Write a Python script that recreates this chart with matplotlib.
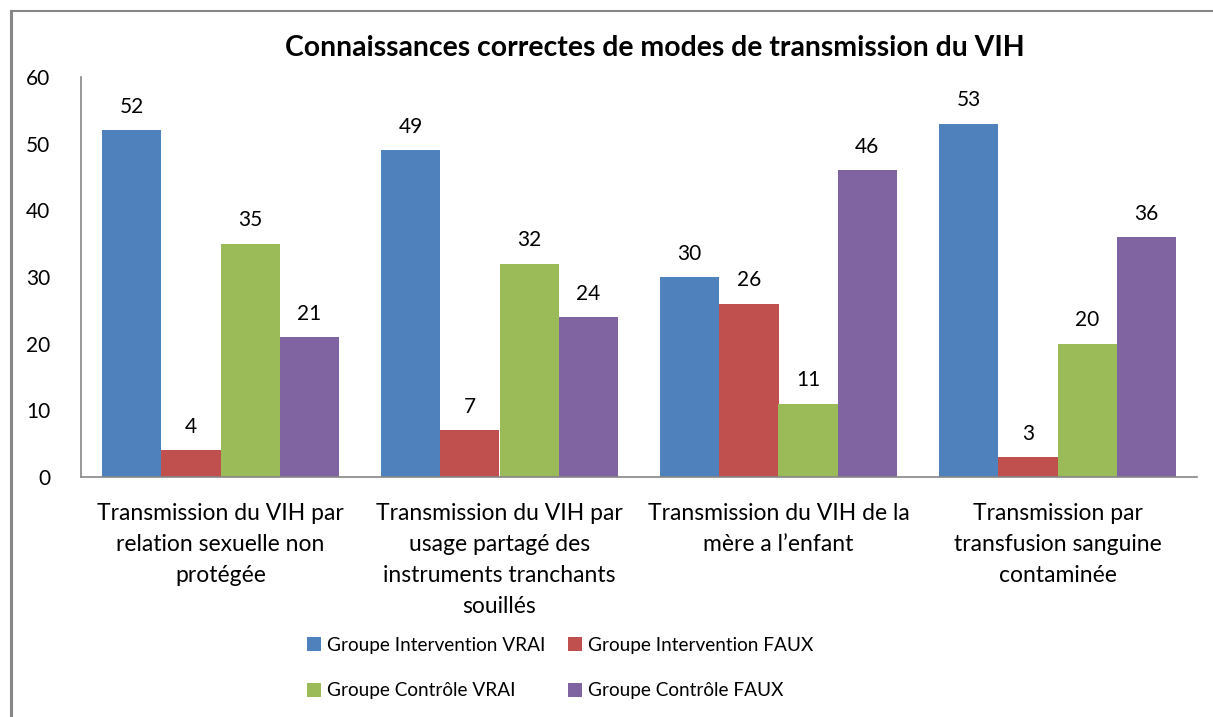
import numpy as np
import matplotlib.pyplot as plt
from matplotlib.lines import Line2D

plt.rcParams['font.family'] = ['Lato', 'DejaVu Sans']

categories = ['Transmission du VIH par\nrelation sexuelle non\nprotégée',
              'Transmission du VIH par\nusage partagé des\ninstruments tranchants\nsouillés',
              'Transmission du VIH de la\nmère a l\u2019enfant',
              'Transmission par\ntransfusion sanguine\ncontaminée']
series = ['Groupe Intervention VRAI', 'Groupe Intervention FAUX',
          'Groupe Contrôle VRAI', 'Groupe Contrôle FAUX']
interv_vrai = [52, 49, 30, 53]
interv_faux = [4, 7, 26, 3]
controle_vrai = [35, 32, 11, 20]
controle_faux = [21, 24, 46, 36]
colors = ['#4F81BD', '#C0504D', '#9BBB59', '#8064A2']

values = [interv_vrai, interv_faux, controle_vrai, controle_faux]

fig = plt.figure(figsize=(12.13, 7.17), dpi=100)
ax = fig.add_axes([81/1213, 1-477/717, (1197-81)/1213, 400/717])

x = np.arange(len(categories))
w = 0.212
handles = []
for i, (vals, lab, col) in enumerate(zip(values, series, colors)):
    pos = x + (i - 1.5)*w
    b = ax.bar(pos, vals, w, color=col, label=lab)
    handles.append(b)
    for p, v in zip(pos, vals):
        ax.text(p, v + 2.0, str(v), ha='center', va='bottom', fontsize=15)

ax.set_xlim(-0.5, 3.5)
ax.set_ylim(0, 60)
ax.set_yticks(range(0, 61, 10))
ax.set_xticks(x)
ax.set_xticklabels(categories, fontsize=16.5, linespacing=1.58, va='top')
ax.tick_params(axis='both', length=0)
ax.tick_params(axis='y', pad=22, labelsize=15)
ax.tick_params(axis='x', pad=19)
for s in ['top', 'right']:
    ax.spines[s].set_visible(False)
for s in ['left', 'bottom']:
    ax.spines[s].set_color('#868686')
    ax.spines[s].set_linewidth(1.2)

fig.text(655/1213, 1-48/717, 'Connaissances correctes de modes de transmission du VIH',
         ha='center', va='center', fontsize=20.4, fontweight='bold')

# legend filled row by row like the original
order = [0, 2, 1, 3]
fig.legend(handles=[handles[k] for k in order], labels=[series[k] for k in order],
           loc='center', ncol=2,
           bbox_to_anchor=(560/1213, 1-668/717), frameon=False, fontsize=13.7,
           handlelength=0.75, handleheight=0.75, handletextpad=0.3,
           columnspacing=1.2, labelspacing=1.5)

fig.add_artist(Line2D([11/1213, 11/1213], [0, 1-11/717], color='#868686', lw=2.2,
                      transform=fig.transFigure))
fig.add_artist(Line2D([11/1213, 1], [1-11/717, 1-11/717], color='#868686', lw=1.5,
                      transform=fig.transFigure))

fig.savefig('out.png', dpi=100)
